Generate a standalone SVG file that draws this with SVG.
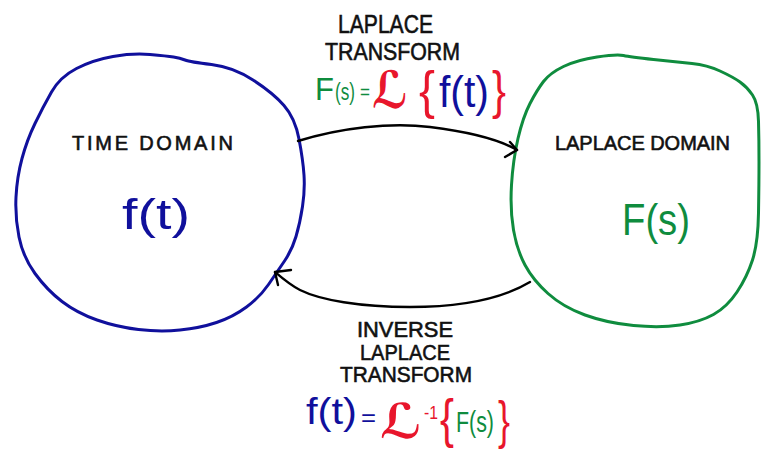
<svg xmlns="http://www.w3.org/2000/svg" width="761" height="450" viewBox="0 0 761 450">
<defs>
<style>
.bg{fill:#ffffff}
.node{fill:none;stroke-width:3;stroke-linecap:round;stroke-linejoin:round}
.blue-s{stroke:#10109c}
.green-s{stroke:#0f8c3e}
.edge{fill:none;stroke:#000;stroke-width:2.4;stroke-linecap:round;stroke-linejoin:round}
.cap{font-family:"Liberation Sans",Arial,sans-serif;fill:#111;stroke:#111;stroke-width:0.6}
.eq{font-family:"Liberation Sans",Arial,sans-serif}
.scr{font-family:"DejaVu Serif","DejaVu Sans",serif;font-weight:bold;fill:#e8162c}
.blue{fill:#10109c}
.green{fill:#0f8c3e}
.red{fill:#e8162c}
</style>
</defs>
<rect class="bg" x="0" y="0" width="761" height="450"/>

<g id="time-domain">
<path class="node blue-s" d="M150,54.5 Q167,56 173.5,57 Q180,58 185,60 Q190,62 211.5,64.5 Q233,67 253,80 Q273,93 284,105.5 Q295,118 299,139 Q303,160 304,175 Q305,190 302.5,206.5 Q300,223 296,236.5 Q292,250 284.5,261 Q277,272 268.5,284.5 Q260,297 246.5,307 Q233,317 216.5,322.5 Q200,328 180,330 Q160,332 138.5,329.5 Q117,327 97,320 Q77,313 62,301.5 Q47,290 35,273.5 Q23,257 19,237 Q15,217 16,197 Q17,177 22,158.5 Q27,140 35,123.5 Q43,107 51.5,92 Q60,77 76.5,68.5 Q93,60 113,56.5 Q133,53 150,54.5 Z"/>
<text class="cap" x="72" y="150" font-size="20" textLength="161">TIME DOMAIN</text>
<text class="eq blue" x="122" y="229" font-size="42" textLength="68" lengthAdjust="spacingAndGlyphs">f(t)</text>
</g>

<g id="laplace-domain">
<path class="node green-s" d="M623.5,55.5 Q630,57 653.5,59.5 Q677,62 692,63.5 Q707,65 720,71 Q733,77 740,82 Q747,87 752.5,95 Q758,103 758.5,121.5 Q759,140 759,161.5 Q759,183 758.5,213 Q758,243 752.5,260 Q747,277 737,292 Q727,307 713.5,314.5 Q700,322 680,325 Q660,328 633.5,325.5 Q607,323 585,315 Q563,307 548,293.5 Q533,280 525,265 Q517,250 513.5,230 Q510,210 511.5,185 Q513,160 518,138.5 Q523,117 530,103.5 Q537,90 543.5,81.5 Q550,73 563.5,66.5 Q577,60 597,57 Q617,54 623.5,55.5 Z"/>
<text class="cap" x="555" y="150" font-size="20" textLength="175">LAPLACE DOMAIN</text>
<text class="eq green" x="622" y="235" font-size="44" textLength="68" lengthAdjust="spacingAndGlyphs">F(s)</text>
</g>

<g id="connectors">
<path class="edge" d="M298,141 C340,128 390,122 430,127 C470,132 500,140 517,150"/>
<path class="edge" d="M510,142 L517,150 L505,157"/>
<path class="edge" d="M530,282 C500,300 460,307 410,307 C360,307 320,300 300,290 C290,285 282,278 275,272"/>
<path class="edge" d="M291,270 L275,272 L278,285"/>
</g>

<g id="label-forward">
<text class="cap" x="338" y="33" font-size="26" textLength="95" lengthAdjust="spacingAndGlyphs">LAPLACE</text>
<text class="cap" x="325" y="60" font-size="24" textLength="135" lengthAdjust="spacingAndGlyphs">TRANSFORM</text>
<text class="eq green" x="315" y="100" font-size="31">F</text>
<text class="eq green" x="335" y="100" font-size="23" textLength="20" lengthAdjust="spacingAndGlyphs">(s)</text>
<text class="eq green" x="360" y="99" font-size="20" textLength="10" lengthAdjust="spacingAndGlyphs">=</text>
<text class="scr" x="372" y="108" font-size="52" textLength="36" lengthAdjust="spacingAndGlyphs">ℒ</text>
<text class="eq red" x="419" y="108" font-size="52" textLength="16" lengthAdjust="spacingAndGlyphs">{</text>
<text class="eq blue" x="439" y="107" font-size="44" textLength="50" lengthAdjust="spacingAndGlyphs">f(t)</text>
<text class="eq red" x="492" y="108" font-size="52" textLength="14" lengthAdjust="spacingAndGlyphs">}</text>
</g>

<g id="label-inverse">
<text class="cap" x="357" y="337" font-size="22" textLength="96" lengthAdjust="spacingAndGlyphs">INVERSE</text>
<text class="cap" x="360" y="360" font-size="22" textLength="90" lengthAdjust="spacingAndGlyphs">LAPLACE</text>
<text class="cap" x="340" y="382" font-size="22" textLength="132" lengthAdjust="spacingAndGlyphs">TRANSFORM</text>
<text class="eq blue" x="306" y="424" font-size="36" textLength="51" lengthAdjust="spacingAndGlyphs">f(t)</text>
<text class="eq blue" x="361" y="426" font-size="24" textLength="15" lengthAdjust="spacingAndGlyphs">=</text>
<text class="scr" x="380" y="438" font-size="48" textLength="42" lengthAdjust="spacingAndGlyphs">ℒ</text>
<text class="eq red" x="424" y="419" font-size="19" textLength="14" lengthAdjust="spacingAndGlyphs">-1</text>
<text class="eq red" x="440" y="437" font-size="54" textLength="14" lengthAdjust="spacingAndGlyphs">{</text>
<text class="eq green" x="456" y="432" font-size="30" textLength="38" lengthAdjust="spacingAndGlyphs">F(s)</text>
<text class="eq red" x="498" y="438" font-size="52" textLength="12" lengthAdjust="spacingAndGlyphs">}</text>
</g>
</svg>
